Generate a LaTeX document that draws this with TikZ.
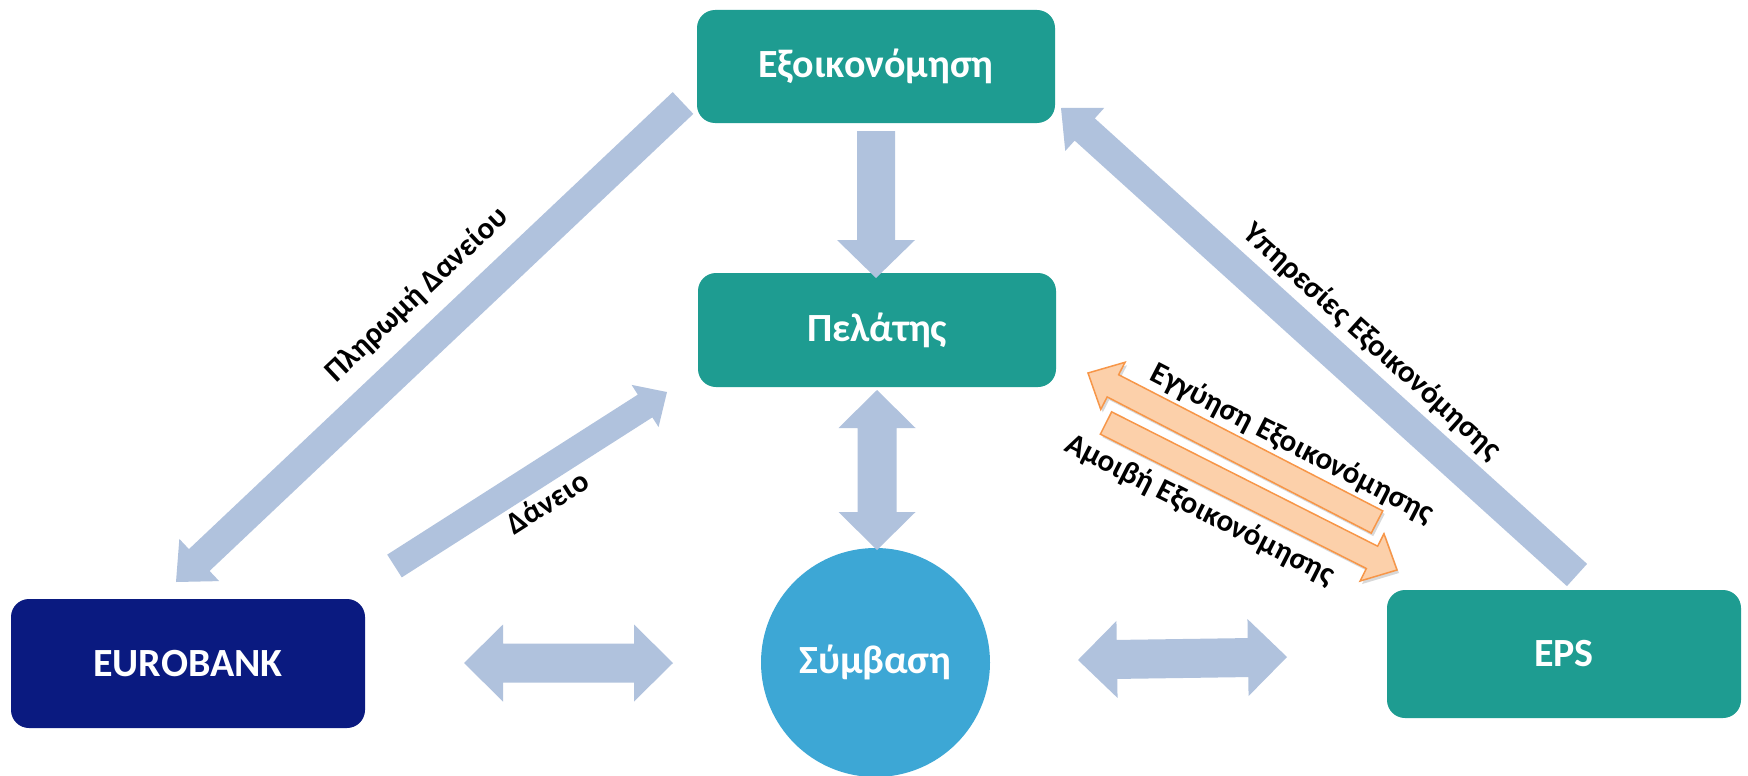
\documentclass[tikz,border=0pt]{standalone}
\usepackage{fontspec}
\setmainfont{Carlito}
\usetikzlibrary{calc}
\definecolor{teal}{RGB}{30,156,145}
\definecolor{circblue}{RGB}{61,167,213}
\definecolor{navy}{RGB}{10,26,128}
\definecolor{fatgrey}{RGB}{176,194,221}
\definecolor{orfill}{RGB}{252,208,170}
\definecolor{ordraw}{RGB}{247,150,72}
% single fat arrow: #1 style, #2 start, #3 tip, #4 half shaft, #5 half head, #6 head length
\newcommand{\fatarrow}[6]{%
  \coordinate (fah) at ($(#3)!#6!(#2)$);
  \path[#1] ($(#2)!#4!90:(#3)$) -- ($(fah)!#4!90:(#3)$) -- ($(fah)!#5!90:(#3)$) -- (#3)
    -- ($(fah)!#5!-90:(#3)$) -- ($(fah)!#4!-90:(#3)$) -- ($(#2)!#4!-90:(#3)$) -- cycle;}
% double fat arrow
\newcommand{\fatdouble}[6]{%
  \coordinate (faa) at ($(#2)!#6!(#3)$);
  \coordinate (fab) at ($(#3)!#6!(#2)$);
  \path[#1] (#2) -- ($(faa)!#5!90:(#3)$) -- ($(faa)!#4!90:(#3)$) -- ($(fab)!#4!90:(#3)$)
    -- ($(fab)!#5!90:(#3)$) -- (#3) -- ($(fab)!#5!-90:(#3)$) -- ($(fab)!#4!-90:(#3)$)
    -- ($(faa)!#4!-90:(#3)$) -- ($(faa)!#5!-90:(#3)$) -- cycle;}
\begin{document}
\begin{tikzpicture}[x=1pt,y=-1pt,
  box/.style={rectangle, rounded corners=18pt, fill=teal, text=white, inner sep=0pt,
    font=\fontsize{40}{48}\selectfont\bfseries},
  lbl/.style={font=\fontsize{31}{37}\selectfont\bfseries, inner sep=0pt, text=black},
  fat/.style={fill=fatgrey},
  orarrow/.style={fill=orfill, draw=ordraw, line width=1.5pt, line join=miter,
    preaction={draw=none, fill=black!50, opacity=0.3, transform canvas={xshift=2pt,yshift=-3pt}}}]
\useasboundingbox (0,0) rectangle (1748,776);
\fill[white] (0,0) rectangle (1748,776);

% nodes
\node[box, minimum width=358pt, minimum height=113pt] (eks) at (876,66.5) {Εξοικονόμηση};
\node[box, minimum width=358pt, minimum height=114pt] (pel) at (877,330) {Πελάτης};
\node[box, fill=navy, minimum width=354pt, minimum height=129pt] (eur) at (188,663.5) {EUROBANK};
\node[box, minimum width=354pt, minimum height=128pt] (eps) at (1564,654) {EPS};
\node[circle, fill=circblue, text=white, minimum size=229pt, inner sep=0pt,
  font=\fontsize{40}{48}\selectfont\bfseries] (sym) at (875.5,662.5) {Σύμβαση};

% connector end points
\coordinate (d1) at (876,131);   \coordinate (d2) at (876,278);
\coordinate (v1) at (877,390);   \coordinate (v2) at (877,550);
\coordinate (hl1) at (464,663);  \coordinate (hl2) at (673,663);
\coordinate (hr1) at (1078,660); \coordinate (hr2) at (1287,657);
\coordinate (p1) at (683,103);   \coordinate (p2) at (176,582);
\coordinate (dn1) at (394.5,566);\coordinate (dn2) at (667,392);
\coordinate (y1) at (1577,575);  \coordinate (y2) at (1061,108);
\coordinate (g1) at (1377,522);  \coordinate (g2) at (1088,373);
\coordinate (m1) at (1106,423);  \coordinate (m2) at (1397,570);

% fat connectors
\fatarrow{fat}{d1}{d2}{19pt}{39pt}{38pt}
\fatdouble{fat}{v1}{v2}{19.5pt}{38.5pt}{38pt}
\fatdouble{fat}{hl1}{hl2}{19.5pt}{38.5pt}{39pt}
\fatdouble{fat}{hr1}{hr2}{19.5pt}{38.5pt}{39pt}
\fatarrow{fat}{p1}{p2}{15pt}{29pt}{32pt}
\fatarrow{fat}{dn1}{dn2}{13.5pt}{25pt}{26pt}
\fatarrow{fat}{y1}{y2}{15pt}{29pt}{32pt}
\fatarrow{orarrow}{g1}{g2}{12.5pt}{26.5pt}{28pt}
\fatarrow{orarrow}{m1}{m2}{12.5pt}{26.5pt}{28pt}

% labels
\node[lbl, rotate=43.4] (lp) at (417,295) {Πληρωμή Δανείου};
\node[lbl, rotate=32.6] (ld) at (547,502) {Δάνειο};
\node[lbl, rotate=-42.1] (ly) at (1372,342) {Υπηρεσίες Εξοικονόμησης};
\node[lbl, rotate=-27.3] (lg) at (1292,444) {Εγγύηση Εξοικονόμησης};
\node[lbl, rotate=-27] (lm) at (1200,510) {Αμοιβή Εξοικονόμησης};
\end{tikzpicture}
\end{document}
